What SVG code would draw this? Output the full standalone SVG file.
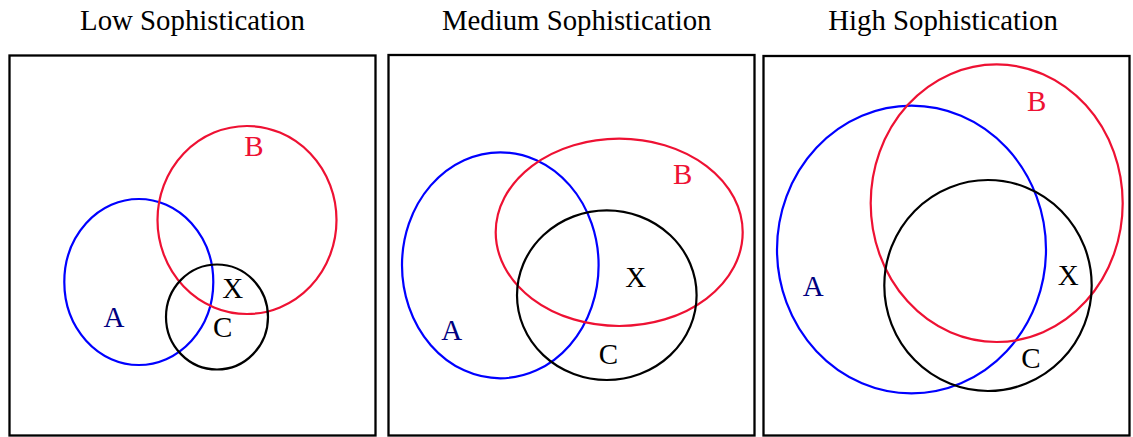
<svg xmlns="http://www.w3.org/2000/svg" width="1133" height="437" viewBox="0 0 1133 437">
<style>
.frame{fill:none;stroke:#000;stroke-width:2.3}
.a{fill:none;stroke:#0000ff;stroke-width:2.2}
.b{fill:none;stroke:#ee1133;stroke-width:2.2}
.c{fill:none;stroke:#000;stroke-width:2.2}
text{font-family:"Liberation Serif","Times New Roman",serif;text-anchor:middle}
.t{font-size:28.8px;fill:#000}
.l{font-size:29px}
.la{fill:#000080}.lb{fill:#ee1133}.lx{fill:#000}
</style>
<rect width="1133" height="437" fill="#fff"/>
<g id="panel-low">
<text class="t" x="192.5" y="30">Low Sophistication</text>
<rect class="frame" x="9.5" y="55.5" width="366" height="380"/>
<ellipse class="a" cx="138.8" cy="282" rx="74.5" ry="83"/>
<ellipse class="b" cx="247" cy="220" rx="89.5" ry="94"/>
<ellipse class="c" cx="217" cy="317" rx="51" ry="52.5"/>
<text class="l lb" x="254" y="156">B</text>
<text class="l la" x="114" y="327">A</text>
<text class="l lx" x="232.7" y="297.5">X</text>
<text class="l lx" x="222.7" y="337">C</text>
</g>
<g id="panel-medium">
<text class="t" x="576.7" y="30">Medium Sophistication</text>
<rect class="frame" x="388.5" y="55" width="366" height="380.5"/>
<ellipse class="a" cx="500.3" cy="265.3" rx="98.3" ry="113"/>
<ellipse class="b" cx="619.2" cy="232.3" rx="123.5" ry="93.7"/>
<ellipse class="c" cx="606.8" cy="295.2" rx="89.8" ry="84.8"/>
<text class="l lb" x="682.7" y="184">B</text>
<text class="l lx" x="635.7" y="286.5">X</text>
<text class="l la" x="451.7" y="340">A</text>
<text class="l lx" x="608.3" y="364">C</text>
</g>
<g id="panel-high">
<text class="t" x="943" y="30">High Sophistication</text>
<rect class="frame" x="763.5" y="56" width="366" height="379.5"/>
<ellipse class="a" cx="911.5" cy="249.5" rx="134.5" ry="143.8"/>
<ellipse class="b" cx="996.7" cy="203.2" rx="126" ry="138.8"/>
<ellipse class="c" cx="988" cy="285.5" rx="103.7" ry="105.5"/>
<text class="l lb" x="1036.7" y="110.5">B</text>
<text class="l la" x="813.3" y="295.5">A</text>
<text class="l lx" x="1068.3" y="285">X</text>
<text class="l lx" x="1031" y="368">C</text>
</g>
<g id="connectors"/>
</svg>
